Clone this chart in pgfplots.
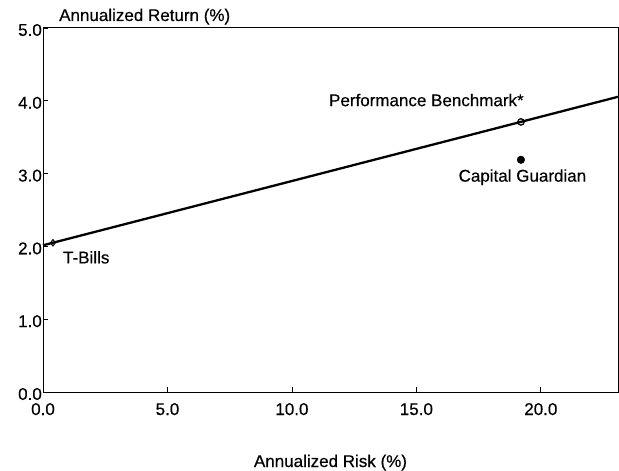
\documentclass[border=0pt]{standalone}
\usepackage{fontspec}
\setmainfont{Liberation Sans}[FakeBold=0.4]
\usepackage{pgfplots}
\pgfplotsset{compat=1.18}
\begin{document}
\fontsize{17bp}{20bp}\selectfont
\begin{tikzpicture}
\useasboundingbox (-43bp,-79bp) rectangle (576bp,392bp);
\begin{axis}[
  at={(0,0)}, anchor=south west,
  width=575bp, height=364bp, scale only axis,
  xmin=0, xmax=23.1, ymin=0, ymax=5,
  xtick={0,5,10,15,20}, ytick={0,1,2,3,4,5},
  xtick pos=bottom, ytick pos=left, tick align=inside,
  major tick length=5bp,
  tick style={black, line width=0.8bp},
  axis line style={black, line width=1bp},
  /pgf/number format/assume math mode=true,
  /pgf/number format/.cd, fixed, fixed zerofill, precision=1, /pgfplots/.cd,
  xticklabel style={anchor=base, yshift=-23bp, inner sep=0pt},
  yticklabel style={anchor=east, inner sep=0pt, xshift=-1bp, yshift=-2bp},
  xlabel={Annualized Risk (\%)},
  xlabel style={at={(rel axis cs:0.5,0)}, anchor=base, yshift=-75bp, inner sep=0pt},
  clip=false,
  every axis plot/.append style={black},
]
% efficient line
\addplot[line width=2.3bp, no markers] coordinates {(0,2.015) (23.1,4.055)};
% T-Bills
\addplot[only marks, mark=diamond, mark size=3.2bp, line width=1bp, mark options={fill=white}] coordinates {(0.4,2.05)};
% Performance Benchmark
\addplot[only marks, mark=o, mark size=3.2bp, line width=1.3bp, mark options={fill=white}] coordinates {(19.2,3.71)};
% Capital Guardian
\addplot[only marks, mark=*, mark size=3.8bp] coordinates {(19.2,3.19)};
\node[anchor=west, inner sep=0pt] at (axis cs:0.8,1.85) {T-Bills};
\node[anchor=east, inner sep=0pt] at (axis cs:19.32,4.01) {Performance Benchmark*};
\node[inner sep=0pt] at (axis cs:19.26,2.95) {Capital Guardian};
\node[anchor=base west, inner sep=0pt, xshift=16bp, yshift=7bp] at (rel axis cs:0,1) {Annualized Return (\%)};
\end{axis}
\end{tikzpicture}
\end{document}
